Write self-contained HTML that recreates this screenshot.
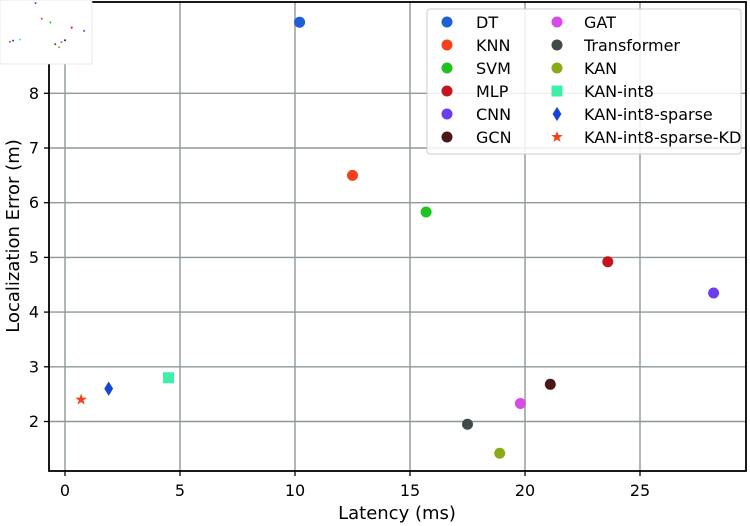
<!DOCTYPE html>
<html><head><meta charset="utf-8"><style>
body{margin:0;background:#fff;}
svg{display:block;font-family:"DejaVu Sans","Liberation Sans",sans-serif;}
</style></head><body>
<svg id="chart" width="750" height="526">
<g id="grid"></g>
<g id="points"></g>
<rect x="49" y="2" width="697" height="469" fill="none" stroke="#000" stroke-width="1.8"/>
<g id="ticks"></g>
<text x="397" y="519" font-size="18" font-weight="500" text-anchor="middle">Latency (ms)</text>
<text transform="translate(19,236) rotate(-90)" font-size="18" font-weight="500" text-anchor="middle">Localization Error (m)</text>
<g id="legend"></g>
<g id="thumb"></g>
</svg>
<script>
const names=["DT","KNN","SVM","MLP","CNN","GCN","GAT","Transformer","KAN","KAN-int8","KAN-int8-sparse","KAN-int8-sparse-KD"];
const latency=[10.2,12.5,15.7,23.6,28.2,21.1,19.8,17.5,18.9,4.5,1.9,0.7];
const errorM=[9.3,6.5,5.83,4.92,4.35,2.68,2.33,1.95,1.42,2.8,2.6,2.4];
const colors=["#1f5fd6","#f5411b","#1fc21f","#c4141f","#6a3df0","#4a1818","#d94be8","#3f4a4a","#8aaa17","#3cf0a8","#1446d6","#f5411b"];
const shapes=["o","o","o","o","o","o","o","o","o","s","d","*"];
const xTicks=[0,5,10,15,20,25];
const yTicks=[2,3,4,5,6,7,8];
const NS="http://www.w3.org/2000/svg";
const X=v=>65+23*v, Y=v=>202.7+(6-v)*54.7;
function mk(t,a,p){const e=document.createElementNS(NS,t);for(const k in a)e.setAttribute(k,a[k]);p.appendChild(e);return e;}
function marker(s,cx,cy,r,c,p){
 if(s==="o")return mk("circle",{cx,cy,r,fill:c},p);
 if(s==="s")return mk("rect",{x:cx-r,y:cy-r,width:2*r,height:2*r,fill:c},p);
 if(s==="d")return mk("polygon",{points:`${cx},${cy-r*1.3} ${cx+r*0.8},${cy} ${cx},${cy+r*1.3} ${cx-r*0.8},${cy}`,fill:c},p);
 let pts=[];for(let i=0;i<10;i++){const rr=i%2?r*0.45:r*1.1,a=-Math.PI/2+i*Math.PI/5;pts.push((cx+rr*Math.cos(a))+","+(cy+rr*Math.sin(a)));}
 return mk("polygon",{points:pts.join(" "),fill:c},p);
}
const g=document.getElementById("grid"),tk=document.getElementById("ticks"),pt=document.getElementById("points"),lg=document.getElementById("legend");
xTicks.forEach(v=>{const l=mk("line",{x1:X(v),x2:X(v),y1:2,y2:471,stroke:"#8e9898","stroke-width":1.4},g);

mk("line",{x1:X(v),x2:X(v),y1:471,y2:476,stroke:"#000","stroke-width":1.3},tk);
const t=mk("text",{x:X(v),y:496,"font-size":16,"font-weight":500,"text-anchor":"middle"},tk);t.textContent=v;
});
yTicks.forEach(v=>{const l=mk("line",{x1:49,x2:746,y1:Y(v),y2:Y(v),stroke:"#8e9898","stroke-width":1.4},g);

mk("line",{x1:44,x2:49,y1:Y(v),y2:Y(v),stroke:"#000","stroke-width":1.3},tk);
const t=mk("text",{x:39,y:Y(v)+5.5,"font-size":16,"font-weight":500,"text-anchor":"end"},tk);t.textContent=v;
});
names.forEach((n,i)=>{const m=marker(shapes[i],X(latency[i]),Y(errorM[i]),shapes[i]==="o"?5.5:5.5,colors[i],pt);
});
const box=mk("rect",{x:427,y:9,width:314,height:145,rx:3,fill:"rgba(255,255,255,0.85)",stroke:"#ccc"},lg);

names.forEach((n,i)=>{const col=i<6?0:1,row=i%6,mx=col?557:447,y=22+row*23;
const ge=mk("g",{},lg);
marker(shapes[i],mx,y,5.5,colors[i],ge);
const t=mk("text",{x:col?584:476,y:y+6,"font-size":16,"font-weight":500},ge);t.textContent=n;});
// thumbnail
const th=document.getElementById("thumb");
mk("rect",{x:0,y:0,width:92,height:64,fill:"#fff",stroke:"#ddd","stroke-width":0.6},th);
const tx=v=>8+v*2.7,ty=v=>2+(9.5-v)*5.6;
names.forEach((n,i)=>{const d=mk("circle",{cx:tx(latency[i]),cy:ty(errorM[i]),r:1,fill:colors[i]},th);
});
</script>
</body></html>
